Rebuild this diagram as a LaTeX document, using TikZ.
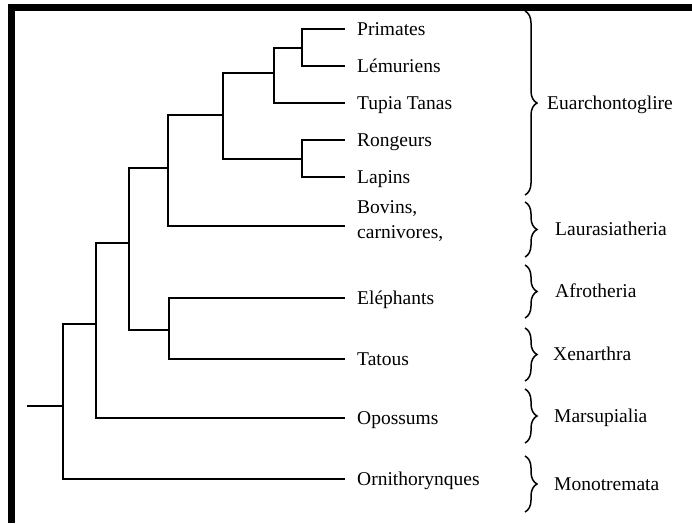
\documentclass[tikz,border=0pt]{standalone}
\usepackage{fontspec}
\setmainfont{Liberation Serif}
\usetikzlibrary{decorations.pathreplacing}
\begin{document}
\begin{tikzpicture}[x=1pt,y=-1pt,
  branch/.style={line width=1.6pt, line cap=rect},
  leaf/.style={anchor=base west, inner sep=0pt, font=\fontsize{19.5}{24.5}\selectfont, align=left},
  grp/.style={anchor=base west, inner sep=0pt, font=\fontsize{19.5}{24.5}\selectfont},
  cbrace/.style={decorate, decoration={brace, amplitude=12pt, aspect=0.5}, line width=1.5pt}]
\useasboundingbox (0,0) rectangle (692,523);
% frame
\fill[black] (8,4) rectangle (692,11);
\fill[black] (8,4) rectangle (15,523);
% internal nodes
\coordinate (r0) at (28,406);
\coordinate (n1) at (63,406);
\coordinate (n2) at (96,324);
\coordinate (n3) at (129,243);
\coordinate (n4) at (168,168);
\coordinate (n5) at (169,330);
\coordinate (n6) at (223,115);
\coordinate (n7) at (274,73);
\coordinate (n8) at (302,159);
\coordinate (n9) at (302,48);
% leaf tips
\coordinate (tPri) at (344,29);
\coordinate (tLem) at (344,66);
\coordinate (tTup) at (344,103);
\coordinate (tRon) at (344,140);
\coordinate (tLap) at (344,177);
\coordinate (tBov) at (344,226);
\coordinate (tEle) at (344,298);
\coordinate (tTat) at (344,359);
\coordinate (tOpo) at (344,418);
\coordinate (tOrn) at (344,479);
% leaf labels
\node[leaf] (pri) at (357,35.5) {Primates};
\node[leaf] (lem) at (357,72.5) {Lémuriens};
\node[leaf] (tup) at (357,109.5) {Tupia Tanas};
\node[leaf] (ron) at (357,146.5) {Rongeurs};
\node[leaf] (lap) at (357,183.5) {Lapins};
\node[leaf] (bov) at (357,238) {Bovins,\\carnivores,};
\node[leaf] (ele) at (357,304.5) {Eléphants};
\node[leaf] (tat) at (357,365.5) {Tatous};
\node[leaf] (opo) at (357,424.5) {Opossums};
\node[leaf] (orn) at (357,485.5) {Ornithorynques};
% tree
\draw[branch] (r0) -- (n1);
\draw[branch] (n1) |- (n2);
\draw[branch] (n1) |- (tOrn);
\draw[branch] (n2) |- (n3);
\draw[branch] (n2) |- (tOpo);
\draw[branch] (n3) |- (n4);
\draw[branch] (n3) |- (n5);
\draw[branch] (n5) |- (tEle);
\draw[branch] (n5) |- (tTat);
\draw[branch] (n4) |- (n6);
\draw[branch] (n4) |- (tBov);
\draw[branch] (n6) |- (n7);
\draw[branch] (n6) |- (n8);
\draw[branch] (n7) |- (n9);
\draw[branch] (n7) |- (tTup);
\draw[branch] (n9) |- (tPri);
\draw[branch] (n9) |- (tLem);
\draw[branch] (n8) |- (tRon);
\draw[branch] (n8) |- (tLap);
% braces
\coordinate (b1t) at (525,11);  \coordinate (b1b) at (525,195);
\coordinate (b2t) at (525,202); \coordinate (b2b) at (525,257);
\coordinate (b3t) at (525,265); \coordinate (b3b) at (525,318);
\coordinate (b4t) at (525,328); \coordinate (b4b) at (525,381);
\coordinate (b5t) at (525,389); \coordinate (b5b) at (525,443);
\coordinate (b6t) at (525,456); \coordinate (b6b) at (525,512);
\draw[cbrace] (b1t) -- (b1b);
\draw[cbrace] (b2t) -- (b2b);
\draw[cbrace] (b3t) -- (b3b);
\draw[cbrace] (b4t) -- (b4b);
\draw[cbrace] (b5t) -- (b5b);
\draw[cbrace] (b6t) -- (b6b);
% group labels
\node[grp] (g1) at (547,109.5) {Euarchontoglire};
\node[grp] (g2) at (555,235.5) {Laurasiatheria};
\node[grp] (g3) at (555,297.5) {Afrotheria};
\node[grp] (g4) at (553,360.5) {Xenarthra};
\node[grp] (g5) at (554,422.5) {Marsupialia};
\node[grp] (g6) at (554,490.5) {Monotremata};
\end{tikzpicture}
\end{document}
